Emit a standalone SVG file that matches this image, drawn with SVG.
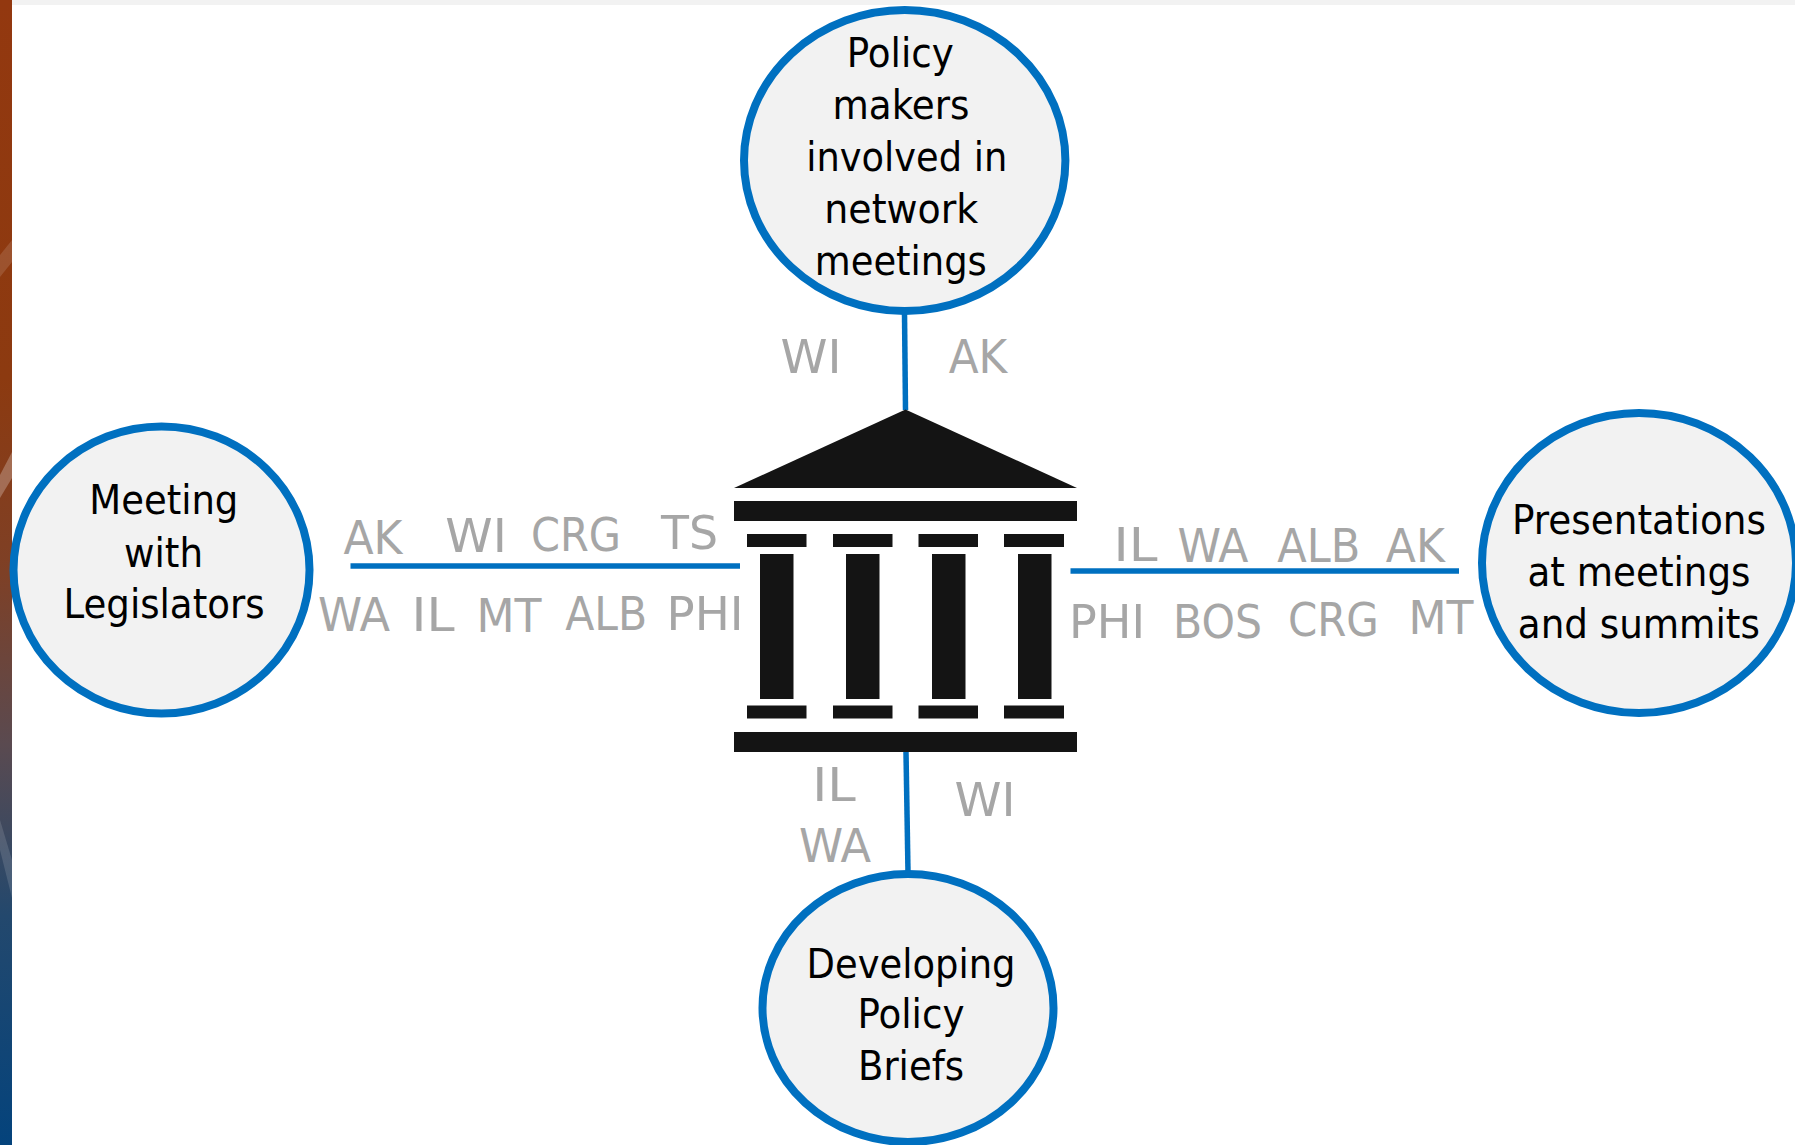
<svg xmlns="http://www.w3.org/2000/svg" width="1795" height="1145" viewBox="0 0 1795 1145">
<defs>
<linearGradient id="band" x1="0" y1="0" x2="0" y2="1">
<stop offset="0" stop-color="#93380f"/><stop offset="0.33" stop-color="#8c3a10"/><stop offset="0.5" stop-color="#7e4026"/><stop offset="0.65" stop-color="#5a4a50"/><stop offset="0.8" stop-color="#23486d"/><stop offset="1" stop-color="#04437c"/>
</linearGradient>
</defs>
<style>
.c{fill:#f2f2f2;stroke:#0070c0;stroke-width:8}
.l{stroke:#0070c0;stroke-width:5.500;fill:none}
.t{font-family:"DejaVu Sans",sans-serif;font-size:41px;fill:#000;text-anchor:middle;font-stretch:condensed}
.g{font-family:"DejaVu Sans",sans-serif;font-size:46px;fill:#a6a6a6;text-anchor:middle;font-stretch:condensed}
.k{fill:#141414}
.s{fill:#fff}
</style>
<rect width="1795" height="1145" fill="#fff"/>
<rect x="10" y="0" width="1785" height="5" fill="#f2f2f2"/>
<g id="band-left">
<rect x="0" y="0" width="12" height="1145" fill="url(#band)"/>
<path class="s" opacity="0.13" d="M0 255L12 240V262L0 277Z"/>
<path class="s" opacity="0.25" d="M0 475L12 452V478L0 498Z"/>
<path class="s" opacity="0.13" d="M0 820L12 860V898L0 850Z"/>
</g>
<g id="connectors">
<path class="l" d="M904.500 313L905.500 410"/>
<path class="l" d="M906 752L908 872"/>
<path class="l" d="M350.500 566H740"/>
<path class="l" d="M1070.500 571H1459"/>
</g>
<g id="building" class="k">
<path d="M905.500 409.500L1077 488H734Z"/>
<rect x="734" y="501" width="343" height="20"/>
<rect x="747" y="534" width="59.500" height="13"/><rect x="833" y="534" width="59.500" height="13"/><rect x="918.500" y="534" width="59.500" height="13"/><rect x="1004" y="534" width="60" height="13"/>
<rect x="760" y="554" width="33.500" height="145"/><rect x="846" y="554" width="33.500" height="145"/><rect x="932" y="554" width="33.500" height="145"/><rect x="1018" y="554" width="33.500" height="145"/>
<rect x="747" y="705.500" width="59.500" height="13"/><rect x="833" y="705.500" width="59.500" height="13"/><rect x="918.500" y="705.500" width="59.500" height="13"/><rect x="1004" y="705.500" width="60" height="13"/>
<rect x="734" y="732" width="343" height="20"/>
</g>
<g id="node-top"><ellipse class="c" cx="904.700" cy="160.500" rx="160.700" ry="150.500"/>
<text class="t" x="900.300" y="66.500" textLength="107" lengthAdjust="spacingAndGlyphs">Policy</text><text class="t" x="901" y="119" textLength="137" lengthAdjust="spacingAndGlyphs">makers</text><text class="t" x="906.800" y="171" textLength="201" lengthAdjust="spacingAndGlyphs">involved in</text><text class="t" x="901.300" y="223" textLength="154" lengthAdjust="spacingAndGlyphs">network</text><text class="t" x="900.800" y="274.500" textLength="172" lengthAdjust="spacingAndGlyphs">meetings</text></g>
<g id="node-left"><ellipse class="c" cx="161.500" cy="570" rx="148" ry="143.500"/>
<text class="t" x="163.800" y="514" textLength="149" lengthAdjust="spacingAndGlyphs">Meeting</text><text class="t" x="163.500" y="566.700" textLength="79" lengthAdjust="spacingAndGlyphs">with</text><text class="t" x="164" y="618.300" textLength="201" lengthAdjust="spacingAndGlyphs">Legislators</text></g>
<g id="node-right"><ellipse class="c" cx="1639" cy="563" rx="157" ry="150"/>
<text class="t" x="1639" y="534" textLength="254" lengthAdjust="spacingAndGlyphs">Presentations</text><text class="t" x="1639" y="586" textLength="223" lengthAdjust="spacingAndGlyphs">at meetings</text><text class="t" x="1638.800" y="637.700" textLength="242" lengthAdjust="spacingAndGlyphs">and summits</text></g>
<g id="node-bottom"><ellipse class="c" cx="908" cy="1008" rx="145.500" ry="134"/>
<text class="t" x="911" y="978" textLength="209" lengthAdjust="spacingAndGlyphs">Developing</text><text class="t" x="911" y="1028" textLength="107" lengthAdjust="spacingAndGlyphs">Policy</text><text class="t" x="911" y="1080" textLength="106" lengthAdjust="spacingAndGlyphs">Briefs</text></g>
<g id="labels">
<text class="g" x="811" y="373.300" textLength="61" lengthAdjust="spacingAndGlyphs">WI</text><text class="g" x="978" y="373.300" textLength="58.500" lengthAdjust="spacingAndGlyphs">AK</text>
<text class="g" x="373" y="554" textLength="59" lengthAdjust="spacingAndGlyphs">AK</text><text class="g" x="476" y="552" textLength="61.500" lengthAdjust="spacingAndGlyphs">WI</text><text class="g" x="576" y="551" textLength="90" lengthAdjust="spacingAndGlyphs">CRG</text><text class="g" x="689.500" y="549.300" textLength="57" lengthAdjust="spacingAndGlyphs">TS</text>
<text class="g" x="354" y="631" textLength="72" lengthAdjust="spacingAndGlyphs">WA</text><text class="g" x="433" y="631" textLength="43" lengthAdjust="spacingAndGlyphs">IL</text><text class="g" x="509" y="632" textLength="65" lengthAdjust="spacingAndGlyphs">MT</text><text class="g" x="606.200" y="630" textLength="82" lengthAdjust="spacingAndGlyphs">ALB</text><text class="g" x="705" y="630" textLength="77" lengthAdjust="spacingAndGlyphs">PHI</text>
<text class="g" x="1135.500" y="560.700" textLength="44" lengthAdjust="spacingAndGlyphs">IL</text><text class="g" x="1213" y="562" textLength="71" lengthAdjust="spacingAndGlyphs">WA</text><text class="g" x="1318.800" y="562" textLength="83" lengthAdjust="spacingAndGlyphs">ALB</text><text class="g" x="1415.300" y="562" textLength="59" lengthAdjust="spacingAndGlyphs">AK</text>
<text class="g" x="1107" y="637.500" textLength="76" lengthAdjust="spacingAndGlyphs">PHI</text><text class="g" x="1217.500" y="637.500" textLength="89" lengthAdjust="spacingAndGlyphs">BOS</text><text class="g" x="1333.400" y="636" textLength="91" lengthAdjust="spacingAndGlyphs">CRG</text><text class="g" x="1441" y="633.500" textLength="65" lengthAdjust="spacingAndGlyphs">MT</text>
<text class="g" x="834" y="800.500" textLength="43.500" lengthAdjust="spacingAndGlyphs">IL</text><text class="g" x="835" y="862" textLength="72" lengthAdjust="spacingAndGlyphs">WA</text><text class="g" x="985" y="815.500" textLength="61" lengthAdjust="spacingAndGlyphs">WI</text>
</g>
</svg>
